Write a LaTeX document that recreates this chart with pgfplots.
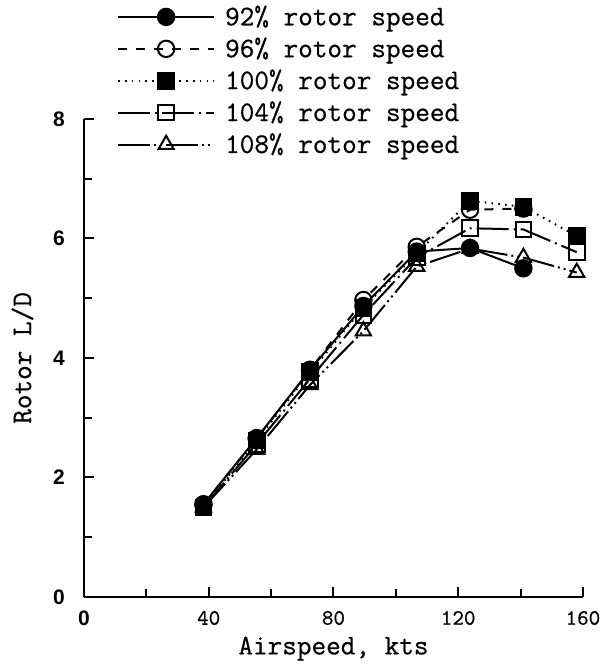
\documentclass[border=0pt]{standalone}
\usepackage{fontspec}
\setsansfont{Liberation Sans}
\newfontfamily\typefont{Latin Modern Mono}[FakeBold=0.6]
\usepackage{pgfplots}
\pgfplotsset{compat=1.18}

\newcommand\labfont{\typefont\fontsize{14.2}{15}\selectfont}

% rotor L/D against airspeed for five rotor speeds
\pgfplotstableread{
x     v92   v96   v100  v104  v108
38.3  1.55  1.55  1.50  1.50  1.50
55.4  2.66  2.65  2.62  2.56  2.47
72.5  3.80  3.80  3.76  3.65  3.55
89.6  4.87  4.97  4.84  4.72  4.45
106.7 5.78  5.86  5.75  5.68  5.53
123.8 5.84  6.48  6.63  6.17  5.83
140.9 5.50  6.50  6.53  6.15  5.68
158.0 nan   nan   6.04  5.77  5.43
}\rotordata

\begin{document}
\begin{tikzpicture}
\pgfplotsset{
  s92/.style={black, line width=1pt, solid, mark=*, mark size=4.1pt, mark options={solid, fill=black}},
  s96/.style={black, line width=1pt, dash pattern=on 4.5pt off 4.5pt, mark=o, mark size=4.1pt, mark options={solid, fill=white}},
  s100/.style={black, line width=1pt, dash pattern=on 0.8pt off 2.6pt, mark=square*, mark size=3.9pt, mark options={solid, fill=black}},
  s104/.style={black, line width=1pt, dash pattern=on 16pt off 2.5pt on 1pt off 2.5pt, mark=square, mark size=3.9pt, mark options={solid, fill=white}},
  s108/.style={black, line width=1pt, dash pattern=on 16pt off 2pt on 1pt off 2pt on 1pt off 2pt, mark=triangle, mark size=4.4pt, mark options={solid, fill=white}},
}
\begin{axis}[
  x=1.559pt, y=29.875pt,
  xmin=0, xmax=160, ymin=0, ymax=8,
  axis x line=bottom, axis y line=left,
  axis line style={-, line width=1pt},
  clip=false,
  xtick={0,40,...,160}, minor xtick={20,60,100,140},
  ytick={0,2,...,8}, minor ytick={1,3,5,7},
  tick align=inside, major tick length=5pt, minor tick length=4pt,
  every tick/.style={line width=1pt, black},
  xticklabels={{\sffamily\bfseries\fontsize{10.5}{12}\selectfont 0},40,80,120,160},
  xticklabel style={font=\typefont\fontsize{11}{13}\selectfont, yshift=-3.5pt},
  yticklabel style={font=\sffamily\bfseries\fontsize{10.5}{12}\selectfont, xshift=-6pt},
  /pgf/number format/assume math mode=true,
  xlabel={Airspeed, kts}, ylabel={Rotor L/D},
  xlabel style={font=\labfont, yshift=1.5pt},
  ylabel style={font=\labfont, yshift=3pt},
  legend style={at={(axis cs:10.5,9.97)}, anchor=north west, draw=none, fill=none,
    font=\labfont, row sep=0.6pt, column sep=3pt, inner sep=0pt,
    cells={anchor=west}},
  legend image code/.code={\draw[mark repeat=2,mark phase=2] plot coordinates {(0pt,0pt)(24pt,0pt)(48pt,0pt)};},
  unbounded coords=jump,
]
\addplot[s108, forget plot] table[x=x, y=v108] {\rotordata};
\addplot[s92] table[x=x, y=v92] {\rotordata};
\addlegendentry{92\% rotor speed}
\addplot[s96] table[x=x, y=v96] {\rotordata};
\addlegendentry{96\% rotor speed}
\addplot[s100] table[x=x, y=v100] {\rotordata};
\addlegendentry{100\% rotor speed}
\addplot[s104] table[x=x, y=v104] {\rotordata};
\addlegendentry{104\% rotor speed}
\addlegendimage{s108}
\addlegendentry{108\% rotor speed}
\coordinate (bbl) at (axis cs:-26.93,-1.155);
\coordinate (btr) at (axis cs:165.45,9.99);
\end{axis}
\pgfresetboundingbox
\path[use as bounding box] (bbl) rectangle (btr);
\end{tikzpicture}
\end{document}
